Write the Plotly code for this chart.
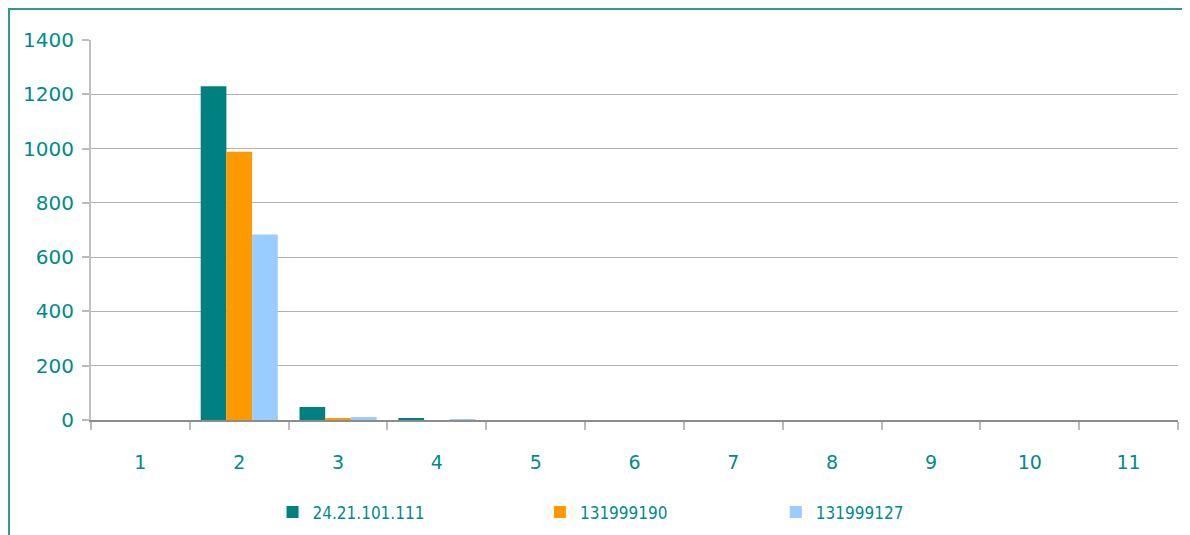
import plotly.graph_objects as go

categories = ["1", "2", "3", "4", "5", "6", "7", "8", "9", "10", "11"]
series_names = ["24.21.101.111", "131999190", "131999127"]
series_a = [0, 1230, 48, 4, 0, 0, 0, 0, 0, 0, 0]
series_b = [0, 988, 4, 0, 0, 0, 0, 0, 0, 0, 0]
series_c = [0, 683, 11, 3, 0, 0, 0, 0, 0, 0, 0]
y_ticks = [0, 200, 400, 600, 800, 1000, 1200, 1400]

colors = ["#008080", "#FF9900", "#99CCFF"]
teal_text = "#008B8B"
font_family = "DejaVu Sans, Verdana, sans-serif"
legend_font = "DejaVu Sans Condensed, DejaVu Sans, sans-serif"

fig = go.Figure()
legend_ids = ["legend", "legend2", "legend3"]
for name, vals, col, lg in zip(series_names, [series_a, series_b, series_c], colors, legend_ids):
    fig.add_trace(go.Bar(x=categories, y=vals, name=name, marker=dict(color=col, line=dict(width=0)),
                         legend=lg, showlegend=True))

legend_common = dict(orientation="h", yanchor="middle", xanchor="left", y=-0.243,
                     font=dict(family=legend_font, size=17, color=teal_text),
                     bgcolor="rgba(0,0,0,0)", borderwidth=0)

fig.update_layout(
    width=1182, height=527,
    margin=dict(l=83, r=12, t=32, b=115, autoexpand=False),
    paper_bgcolor="white", plot_bgcolor="white",
    showlegend=True,
    barmode="group", bargap=0.22, bargroupgap=0,
    font=dict(family=font_family, color=teal_text),
    legend=dict(x=0.167, **legend_common),
    legend2=dict(x=0.413, **legend_common),
    legend3=dict(x=0.630, **legend_common),
    xaxis=dict(type="category", tickson="boundaries", ticks="outside", ticklen=8,
               tickcolor="#BBBBBB", tickwidth=2, showline=True, linecolor="#8C8C8C", linewidth=2,
               showgrid=False, tickfont=dict(size=19, color=teal_text), ticklabelstandoff=24),
    yaxis=dict(range=[0, 1400], tickvals=y_ticks, showgrid=True, gridcolor="#B3B3B3", gridwidth=1,
               zeroline=False, showline=True, linecolor="#C0C0C0", linewidth=2,
               ticks="outside", ticklen=7, tickcolor="#BBBBBB", tickwidth=2,
               tickfont=dict(size=20, color=teal_text), ticklabelstandoff=4),
    shapes=[dict(type="rect", xref="paper", yref="paper", x0=1 / 1087 - 83 / 1087, x1=1.05,
                 y0=-0.4, y1=411 / 380,
                 line=dict(color="#2E9A96", width=2), fillcolor="rgba(0,0,0,0)", layer="below")],
)

fig.write_html("out.html")
